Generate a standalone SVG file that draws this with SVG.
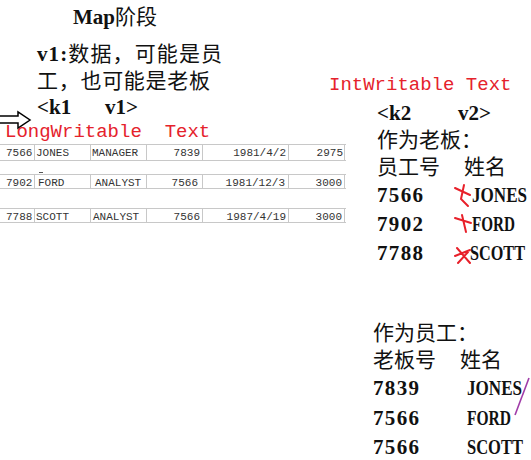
<svg xmlns="http://www.w3.org/2000/svg" width="531" height="460" viewBox="0 0 531 460">
<style>
.t{font-family:"Liberation Serif","Noto Sans CJK SC",serif;font-size:21px;fill:#111;font-weight:bold}
.k{font-family:"Noto Sans CJK SC","Liberation Serif",sans-serif;font-size:21px;fill:#111;font-weight:normal}
.r{font-family:"Liberation Mono",monospace;font-size:19px;fill:#e5222c}
.c{font-family:"Liberation Mono",monospace;font-size:11px;fill:#333}
.ce{text-anchor:end}
.g{stroke:#c8c8c8;stroke-width:1}
.x{stroke:#e8202a;stroke-width:2;fill:none;stroke-linecap:round}
</style>
<rect width="531" height="460" fill="#fff"/>
<text class="k" x="73" y="24" font-size="18"><tspan class="t" font-size="18">Map</tspan>阶段</text>
<text class="k" x="37" y="61" textLength="185"><tspan class="t">v1:</tspan>数据，可能是员</text>
<text class="k" x="37" y="88" textLength="173">工，也可能是老板</text>
<text class="t" x="37" y="114">&lt;k1</text><text class="t" x="105" y="114">v1&gt;</text>
<path d="M0,116 H18 V112 L30,120 L18,128 V123 H0" fill="none" stroke="#000" stroke-width="1.5"/>
<text class="r" x="5" y="137" xml:space="preserve">LongWritable  Text</text>
<g id="table">
<line class="g" x1="0" y1="144.5" x2="346" y2="144.5"/>
<line class="g" x1="0" y1="160.5" x2="346" y2="160.5"/>
<line class="g" x1="0" y1="174.5" x2="346" y2="174.5"/>
<line class="g" x1="0" y1="188.5" x2="346" y2="188.5"/>
<line class="g" x1="0" y1="208.5" x2="346" y2="208.5"/>
<line class="g" x1="0" y1="222.5" x2="346" y2="222.5"/>
<g class="g">
<line x1="34.5" y1="145" x2="34.5" y2="160"/><line x1="90.5" y1="145" x2="90.5" y2="160"/><line x1="146.5" y1="145" x2="146.5" y2="160"/><line x1="202.5" y1="145" x2="202.5" y2="160"/><line x1="288.5" y1="145" x2="288.5" y2="160"/><line x1="344.5" y1="145" x2="344.5" y2="160"/>
<line x1="34.5" y1="175" x2="34.5" y2="188"/><line x1="90.5" y1="175" x2="90.5" y2="188"/><line x1="146.5" y1="175" x2="146.5" y2="188"/><line x1="202.5" y1="175" x2="202.5" y2="188"/><line x1="288.5" y1="175" x2="288.5" y2="188"/><line x1="344.5" y1="175" x2="344.5" y2="188"/>
<line x1="34.5" y1="209" x2="34.5" y2="222"/><line x1="90.5" y1="209" x2="90.5" y2="222"/><line x1="146.5" y1="209" x2="146.5" y2="222"/><line x1="202.5" y1="209" x2="202.5" y2="222"/><line x1="288.5" y1="209" x2="288.5" y2="222"/><line x1="344.5" y1="209" x2="344.5" y2="222"/>
</g>
<text class="c" x="6" y="156">7566</text><text class="c" x="36" y="156">JONES</text><text class="c" x="92" y="156">MANAGER</text>
<text class="c ce" x="200" y="156">7839</text><text class="c ce" x="286" y="156">1981/4/2</text><text class="c ce" x="343" y="156">2975</text>
<text class="c" x="6" y="186">7902</text><text class="c" x="38" y="186">FORD</text><text class="c" x="95" y="186">ANALYST</text>
<text class="c ce" x="198" y="186">7566</text><text class="c ce" x="285" y="186">1981/12/3</text><text class="c ce" x="342" y="186">3000</text>
<line x1="39" y1="172.5" x2="43" y2="172.5" stroke="#555" stroke-width="1"/>
<text class="c" x="6" y="220">7788</text><text class="c" x="36" y="220">SCOTT</text><text class="c" x="93" y="220">ANALYST</text>
<text class="c ce" x="200" y="220">7566</text><text class="c ce" x="286" y="220">1987/4/19</text><text class="c ce" x="342" y="220">3000</text>
</g>
<text class="r" x="329" y="90">IntWritable Text</text>
<text class="t" x="377" y="120">&lt;k2</text><text class="t" x="458" y="120">v2&gt;</text>
<text class="k" x="377" y="147">作为老板：</text>
<text class="k" x="377" y="174">员工号</text><text class="k" x="464" y="174">姓名</text>
<text class="t" x="377" y="202" textLength="46">7566</text><text class="t" x="472" y="202" textLength="55" lengthAdjust="spacingAndGlyphs">JONES</text>
<text class="t" x="377" y="231" textLength="46">7902</text><text class="t" x="472" y="231" textLength="43" lengthAdjust="spacingAndGlyphs">FORD</text>
<text class="t" x="377" y="260" textLength="46">7788</text><text class="t" x="470" y="260" textLength="55" lengthAdjust="spacingAndGlyphs">SCOTT</text>
<g id="marks">
<path class="x" d="M455,188 L470,195 M464,185 L461,199 L468,206"/>
<path class="x" d="M455,218 L471,223 M462,215 L466,232"/>
<path class="x" d="M455,256 L470,250 M457,248 L470,263 M458,263 L468,252"/>
</g>
<text class="k" x="373" y="340">作为员工：</text>
<text class="k" x="373" y="367">老板号</text><text class="k" x="460" y="367">姓名</text>
<text class="t" x="373" y="395" textLength="46">7839</text><text class="t" x="467" y="395" textLength="55" lengthAdjust="spacingAndGlyphs">JONES</text>
<text class="t" x="373" y="425" textLength="46">7566</text><text class="t" x="467" y="425" textLength="44" lengthAdjust="spacingAndGlyphs">FORD</text>
<text class="t" x="373" y="454" textLength="46">7566</text><text class="t" x="467" y="454" textLength="56" lengthAdjust="spacingAndGlyphs">SCOTT</text>
<line x1="529" y1="378" x2="515" y2="415" stroke="#a03ca8" stroke-width="1.6"/>
</svg>
